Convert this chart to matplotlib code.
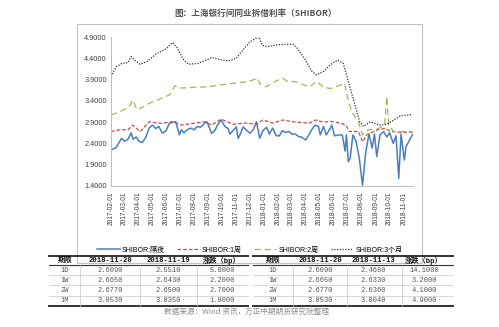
import matplotlib
matplotlib.use("Agg")
import matplotlib.pyplot as plt
import matplotlib.dates as mdates
from matplotlib.lines import Line2D
from matplotlib.patches import Rectangle
import pandas as pd

plt.rcParams['font.family'] = ['Liberation Sans', 'Noto Sans CJK SC', 'DejaVu Sans']

# ---- data ----
on_dates = ["2017-02-01", "2017-02-12", "2017-02-24", "2017-03-03", "2017-03-10", "2017-03-17",
            "2017-03-21", "2017-03-28", "2017-04-03", "2017-04-10", "2017-04-18", "2017-04-25",
            "2017-05-02", "2017-05-10", "2017-05-16", "2017-05-24", "2017-06-01", "2017-06-08",
            "2017-06-16", "2017-06-22", "2017-06-30", "2017-07-04", "2017-07-10", "2017-07-17",
            "2017-07-25", "2017-08-01", "2017-08-08", "2017-08-15", "2017-08-24", "2017-08-29",
            "2017-09-08", "2017-09-15", "2017-09-22", "2017-09-29", "2017-10-07", "2017-10-14",
            "2017-10-18", "2017-10-25", "2017-11-01", "2017-11-05", "2017-11-09", "2017-11-16",
            "2017-11-24", "2017-12-01", "2017-12-08", "2017-12-15", "2017-12-22", "2017-12-29",
            "2018-01-06", "2018-01-12", "2018-01-19", "2018-01-27", "2018-02-03", "2018-02-09",
            "2018-02-16", "2018-02-24", "2018-03-02", "2018-03-10", "2018-03-17", "2018-03-23",
            "2018-04-01", "2018-04-08", "2018-04-14", "2018-04-22", "2018-04-29", "2018-05-03",
            "2018-05-10", "2018-05-16", "2018-05-23", "2018-05-28", "2018-06-03", "2018-06-12",
            "2018-06-20", "2018-06-26", "2018-06-29", "2018-07-03", "2018-07-07", "2018-07-13",
            "2018-07-20", "2018-07-27", "2018-08-03", "2018-08-10", "2018-08-17", "2018-08-24",
            "2018-08-29", "2018-09-03", "2018-09-10", "2018-09-18", "2018-09-25", "2018-10-01",
            "2018-10-09", "2018-10-15", "2018-10-21", "2018-10-26", "2018-11-02", "2018-11-06",
            "2018-11-13", "2018-11-20"]
on_vals = [2.25, 2.30, 2.52, 2.45, 2.50, 2.65,
           2.50, 2.55, 2.45, 2.42, 2.55, 2.76,
           2.83, 2.75, 2.80, 2.64, 2.70, 2.87,
           2.90, 2.91, 2.60, 2.72, 2.65, 2.72,
           2.76, 2.72, 2.80, 2.78, 2.87, 2.91,
           2.64, 2.70, 2.85, 2.95, 2.80, 2.75,
           2.62, 2.70, 2.79, 2.52, 2.60, 2.79,
           2.70, 2.64, 2.72, 2.91, 2.52, 2.70,
           2.78, 2.62, 2.76, 2.58, 2.58, 2.70,
           2.66, 2.68, 2.62, 2.62, 2.56, 2.55,
           2.48, 2.60, 2.72, 2.83, 2.80, 2.60,
           2.80, 2.60, 2.72, 2.83, 2.58, 2.60,
           2.60, 2.22, 2.60, 1.97, 2.05, 2.60,
           2.45, 2.05, 1.42, 2.19, 2.62, 2.29,
           2.62, 2.09, 2.60, 2.68, 2.55, 2.65,
           2.40, 2.58, 1.58, 2.62, 2.01, 2.33,
           2.47, 2.609]

w1_dates = ["2017-02-01", "2017-02-20", "2017-03-10", "2017-03-20", "2017-04-06", "2017-04-25",
            "2017-05-20", "2017-06-15", "2017-07-05", "2017-07-30", "2017-08-25", "2017-09-08",
            "2017-09-29", "2017-10-25", "2017-11-20", "2017-12-15", "2017-12-29", "2018-01-20",
            "2018-02-10", "2018-03-10", "2018-04-10", "2018-04-22", "2018-05-10", "2018-05-25",
            "2018-06-15", "2018-06-28", "2018-07-05", "2018-07-25", "2018-08-03", "2018-08-12",
            "2018-09-05", "2018-09-20", "2018-10-05", "2018-10-25", "2018-11-20"]
w1_vals = [2.68, 2.72, 2.72, 2.83, 2.68, 2.91,
           2.87, 2.91, 2.83, 2.87, 2.91, 2.83,
           2.97, 2.85, 2.88, 2.85, 2.95, 2.88,
           2.95, 2.90, 2.88, 2.95, 2.90, 2.92,
           2.88, 2.83, 2.68, 2.68, 2.44, 2.60,
           2.72, 2.75, 2.68, 2.66, 2.665]

w2_dates = ["2017-02-01", "2017-02-15", "2017-03-01", "2017-03-15", "2017-03-20", "2017-03-30",
            "2017-04-10", "2017-04-25", "2017-05-20", "2017-06-10", "2017-06-20", "2017-07-05",
            "2017-08-01", "2017-09-01", "2017-10-01", "2017-11-01", "2017-11-25", "2017-12-18",
            "2017-12-22", "2018-01-05", "2018-01-25", "2018-02-10", "2018-02-20", "2018-03-10",
            "2018-04-01", "2018-04-10", "2018-04-25", "2018-05-10", "2018-05-25", "2018-06-10",
            "2018-06-25", "2018-07-01", "2018-07-10", "2018-07-25", "2018-08-03", "2018-08-15",
            "2018-09-05", "2018-09-20", "2018-09-25", "2018-09-29", "2018-10-10", "2018-11-20"]
w2_vals = [3.07, 3.12, 3.19, 3.30, 3.42, 3.19,
           3.25, 3.34, 3.45, 3.55, 3.75, 3.70,
           3.72, 3.73, 3.78, 3.82, 3.85, 3.93,
           3.80, 3.73, 3.86, 3.93, 3.86, 3.85,
           3.76, 3.73, 3.86, 3.72, 3.69, 3.75,
           3.81, 3.50, 3.15, 2.91, 2.60, 2.72,
           2.74, 2.83, 3.50, 2.83, 2.68, 2.677]

m3_dates = ["2017-02-01", "2017-02-12", "2017-02-25", "2017-03-10", "2017-03-17", "2017-03-25",
            "2017-04-05", "2017-04-20", "2017-05-10", "2017-06-01", "2017-06-15", "2017-06-25",
            "2017-07-10", "2017-07-20", "2017-08-10", "2017-09-01", "2017-09-08", "2017-10-01",
            "2017-10-15", "2017-11-01", "2017-11-15", "2017-12-01", "2017-12-20", "2017-12-28",
            "2018-01-06", "2018-02-01", "2018-03-05", "2018-03-15", "2018-04-01", "2018-04-15",
            "2018-04-25", "2018-05-10", "2018-05-25", "2018-06-10", "2018-06-22", "2018-07-01",
            "2018-07-15", "2018-07-28", "2018-08-05", "2018-08-20", "2018-09-10", "2018-09-25",
            "2018-10-10", "2018-10-25", "2018-11-20"]
m3_vals = [3.97, 4.20, 4.28, 4.30, 4.44, 4.35,
           4.26, 4.32, 4.50, 4.62, 4.77, 4.65,
           4.35, 4.26, 4.28, 4.38, 4.42, 4.36,
           4.34, 4.40, 4.59, 4.79, 4.91, 4.70,
           4.67, 4.72, 4.73, 4.62, 4.35, 4.09,
           4.01, 4.09, 4.25, 4.36, 4.28, 3.94,
           3.40, 2.91, 2.80, 2.91, 2.83, 2.85,
           2.95, 3.05, 3.08]

series_names = ["SHIBOR:隔夜", "SHIBOR:1周", "SHIBOR:2周", "SHIBOR:3个月"]
y_ticks = [1.4, 1.9, 2.4, 2.9, 3.4, 3.9, 4.4, 4.9]

tbl_terms = ["1D", "1W", "2W", "1M"]
tbl1_header = ["期限", "2018-11-20", "2018-11-19", "涨跌（bp）"]
tbl1_now = ["2.6090", "2.6650", "2.6770", "3.0530"]
tbl1_prev = ["2.5510", "2.6430", "2.6500", "3.0350"]
tbl1_chg = ["5.8000", "2.2000", "2.7000", "1.8000"]
tbl2_header = ["期限", "2018-11-20", "2018-11-13", "涨跌（bp）"]
tbl2_now = ["2.6090", "2.6650", "2.6770", "3.0530"]
tbl2_prev = ["2.4680", "2.6330", "2.6360", "3.0040"]
tbl2_chg = ["14.1000", "3.2000", "4.1000", "4.9000"]

W, H = 499, 327
fig = plt.figure(figsize=(W / 100, H / 100), dpi=100, facecolor="white")


def fx(x):
    return x / W


def fy(y):
    return 1 - y / H


# chart frame
fig.patches.append(Rectangle((fx(77), fy(263)), fx(422) - fx(77), fy(24) - fy(263),
                             transform=fig.transFigure, fill=False, edgecolor="#bfbfbf", lw=0.8))

fig.text(fx(256), fy(13), "图：上海银行间同业拆借利率（SHIBOR）", ha="center", va="center",
         fontsize=6.2, color="#555555", family=["Noto Sans CJK SC", "DejaVu Sans"], weight="bold")

ax = fig.add_axes([fx(111), fy(186), fx(413) - fx(111), fy(37) - fy(186)])
to_dt = lambda d: pd.to_datetime(d)
ax.plot(to_dt(on_dates), on_vals, color="#4a7ebb", lw=1.1, label=series_names[0])
ax.plot(to_dt(w1_dates), w1_vals, color="#c0504d", lw=0.9, ls=(0, (3, 1.5)), label=series_names[1])
ax.plot(to_dt(w2_dates), w2_vals, color="#9bbb59", lw=0.9, ls=(0, (5, 3)), label=series_names[2])
ax.plot(to_dt(m3_dates), m3_vals, color="#333333", lw=0.9, ls=(0, (1, 1.2)), label=series_names[3])

ax.set_ylim(1.4, 4.9)
ax.set_yticks(y_ticks)
ax.set_yticklabels([f"{v:.4f}" for v in y_ticks])
ax.set_xlim(pd.Timestamp("2017-02-01"), pd.Timestamp("2018-11-21"))
ax.xaxis.set_major_locator(mdates.MonthLocator())
ax.xaxis.set_major_formatter(mdates.DateFormatter("%Y-%m-%d"))
ax.tick_params(axis="x", rotation=90, labelsize=4.8, length=0, pad=4, colors="#404040")
ax.tick_params(axis="y", labelsize=5.3, length=0, pad=3, colors="#404040")
for s in ["top", "right"]:
    ax.spines[s].set_visible(False)
for s in ["left", "bottom"]:
    ax.spines[s].set_color("#bfbfbf")
    ax.spines[s].set_linewidth(0.8)

handles, labels = ax.get_legend_handles_labels()
fig.legend(handles, labels, loc="center", bbox_to_anchor=(fx(250), fy(250)), ncol=4, frameon=False,
           handlelength=3.2, columnspacing=1.8, handletextpad=0.3,
           prop={"family": ["Liberation Sans", "Noto Sans CJK SC"], "size": 5})


def draw_table(x0, x1, bounds, centers, header, rows):
    top, head_bot, bot = 256, 265, 305.5
    row_y = [270.5, 280, 290.5, 300.5]
    seps = [275.3, 285.3, 296]
    fig.add_artist(Line2D([fx(x0), fx(x1)], [fy(top), fy(top)], color="#333333", lw=1.4))
    fig.add_artist(Line2D([fx(x0), fx(x1)], [fy(head_bot), fy(head_bot)], color="#333333", lw=0.8))
    fig.add_artist(Line2D([fx(x0), fx(x1)], [fy(bot), fy(bot)], color="#333333", lw=1.4))
    for s in seps:
        fig.add_artist(Line2D([fx(x0), fx(x1)], [fy(s), fy(s)], color="#c8c8c8", lw=0.5))
    for b in bounds:
        fig.add_artist(Line2D([fx(b), fx(b)], [fy(head_bot), fy(bot)], color="#c8c8c8", lw=0.5))
    for c, h in zip(centers, header):
        fig.text(fx(c), fy(260.5), h, ha="center", va="center", fontsize=5.2, color="#111111",
                 weight="bold", family=["Liberation Mono", "Noto Sans CJK SC"])
    for r, y in zip(rows, row_y):
        for c, v in zip(centers, r):
            fig.text(fx(c), fy(y), v, ha="center", va="center", fontsize=5.0, color="#555555",
                     family=["Liberation Mono", "Noto Sans CJK SC"])


rows1 = list(zip(tbl_terms, tbl1_now, tbl1_prev, tbl1_chg))
rows2 = list(zip(tbl_terms, tbl2_now, tbl2_prev, tbl2_chg))
draw_table(49, 248, [80, 140, 197], [65, 110, 168, 222], tbl1_header, rows1)
draw_table(253, 453, [293, 347, 402], [273, 320, 373, 424], tbl2_header, rows2)

fig.text(fx(247), fy(313), "数据来源：Wind 资讯，方正中期期货研究院整理", ha="center", va="center",
         fontsize=5.5, color="#8c8c8c", style="italic", family=["Noto Sans CJK SC", "DejaVu Sans"])

fig.savefig("out.png", dpi=100, facecolor="white")
